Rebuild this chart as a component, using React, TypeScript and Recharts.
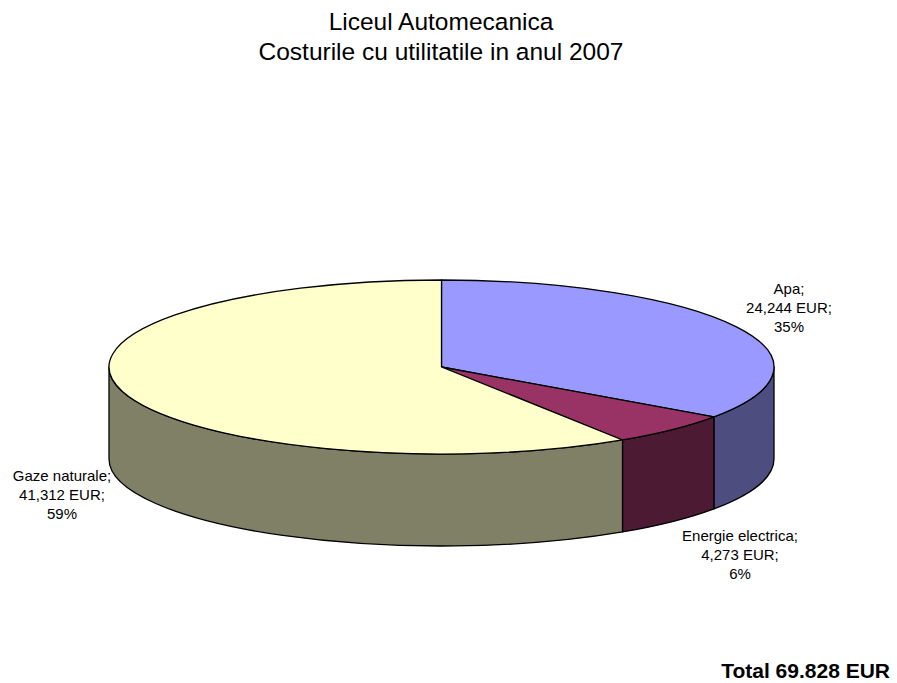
import { Pie, PieChart } from 'recharts';

const categories = ['Apa', 'Energie electrica', 'Gaze naturale'];
const costs = [24244, 4273, 41312];
const costLabels = ['24,244 EUR', '4,273 EUR', '41,312 EUR'];
const percentLabels = ['35%', '6%', '59%'];
const topColors = ['#9999FF', '#993366', '#FFFFCC'];
const wallColors = ['#4D4D80', '#4D1A33', '#808066'];
const titleLines = ['Liceul Automecanica', 'Costurile cu utilitatile in anul 2007'];
const totalLabel = 'Total 69.828 EUR';

const FONT = '"Liberation Sans", Arial, sans-serif';
const CX = 441.5;
const CY = 367;
const RX = 332.5;
const RY = 87;
const DEPTH = 92;

// where each data label sits: center x and first baseline
const LABEL_POS = [
  { x: 789, y: 294 },
  { x: 740, y: 541 },
  { x: 62, y: 481 },
];

const chartData = categories.map((name, i) => ({
  name,
  value: costs[i],
  index: i,
}));

const pointAt = (deg: number, dy = 0) => {
  const rad = (deg * Math.PI) / 180;
  return {
    x: (CX + RX * Math.cos(rad)).toFixed(2),
    y: (CY + dy - RY * Math.sin(rad)).toFixed(2),
  };
};

// recharts hands us a circular sector, squash it into the tilted top face
function TopSlice(props: any) {
  const { startAngle, endAngle, payload } = props;
  const a = pointAt(startAngle);
  const b = pointAt(endAngle);
  const large = Math.abs(endAngle - startAngle) > 180 ? 1 : 0;
  const d = `M${CX},${CY} L${a.x},${a.y} A${RX},${RY} 0 ${large} 1 ${b.x},${b.y} Z`;
  return <path d={d} fill={topColors[payload.index]} stroke="#000" strokeWidth={1.3} strokeLinejoin="round" />;
}

// side wall, only the part of the slice facing the viewer (0 to -180 degrees)
function WallSlice(props: any) {
  const { startAngle, endAngle, payload } = props;
  const from = Math.min(startAngle, 0);
  const to = Math.max(endAngle, -180);
  if (from <= to) return null;
  const a = pointAt(from);
  const b = pointAt(to);
  const c = pointAt(to, DEPTH);
  const e = pointAt(from, DEPTH);
  const d = `M${a.x},${a.y} A${RX},${RY} 0 0 1 ${b.x},${b.y} L${c.x},${c.y} A${RX},${RY} 0 0 0 ${e.x},${e.y} Z`;
  return <path d={d} fill={wallColors[payload.index]} stroke="#000" strokeWidth={1.3} strokeLinejoin="round" />;
}

function SliceLabel(props: any) {
  const i = props.index;
  const pos = LABEL_POS[i];
  const lines = [`${categories[i]};`, `${costLabels[i]};`, percentLabels[i]];
  return (
    <text x={pos.x} y={pos.y} textAnchor="middle" fontFamily={FONT} fontSize={15} fill="#000">
      {lines.map((line, n) => (
        <tspan key={n} x={pos.x} dy={n === 0 ? 0 : 19.2}>
          {line}
        </tspan>
      ))}
    </text>
  );
}

export default function App() {
  return (
    <div style={{ position: 'absolute', left: 0, top: 0, width: 897, height: 683, background: '#fff' }}>
      <PieChart width={897} height={683} margin={{ top: 0, right: 0, bottom: 0, left: 0 }}>
        <Pie
          data={chartData}
          dataKey="value"
          nameKey="name"
          cx={CX}
          cy={CY}
          innerRadius={0}
          outerRadius={RX}
          startAngle={90}
          endAngle={-270}
          shape={WallSlice}
          label={false}
          labelLine={false}
          isAnimationActive={false}
        />
        <Pie
          data={chartData}
          dataKey="value"
          nameKey="name"
          cx={CX}
          cy={CY}
          innerRadius={0}
          outerRadius={RX}
          startAngle={90}
          endAngle={-270}
          shape={TopSlice}
          label={SliceLabel}
          labelLine={false}
          isAnimationActive={false}
        />
        <text x={441} y={30} textAnchor="middle" fontFamily={FONT} fontSize={24.5} fill="#000">
          {titleLines[0]}
        </text>
        <text x={441} y={60} textAnchor="middle" fontFamily={FONT} fontSize={24.5} fill="#000">
          {titleLines[1]}
        </text>
        <text x={890} y={678} textAnchor="end" fontFamily={FONT} fontSize={21} fontWeight="bold" fill="#000">
          {totalLabel}
        </text>
      </PieChart>
    </div>
  );
}
